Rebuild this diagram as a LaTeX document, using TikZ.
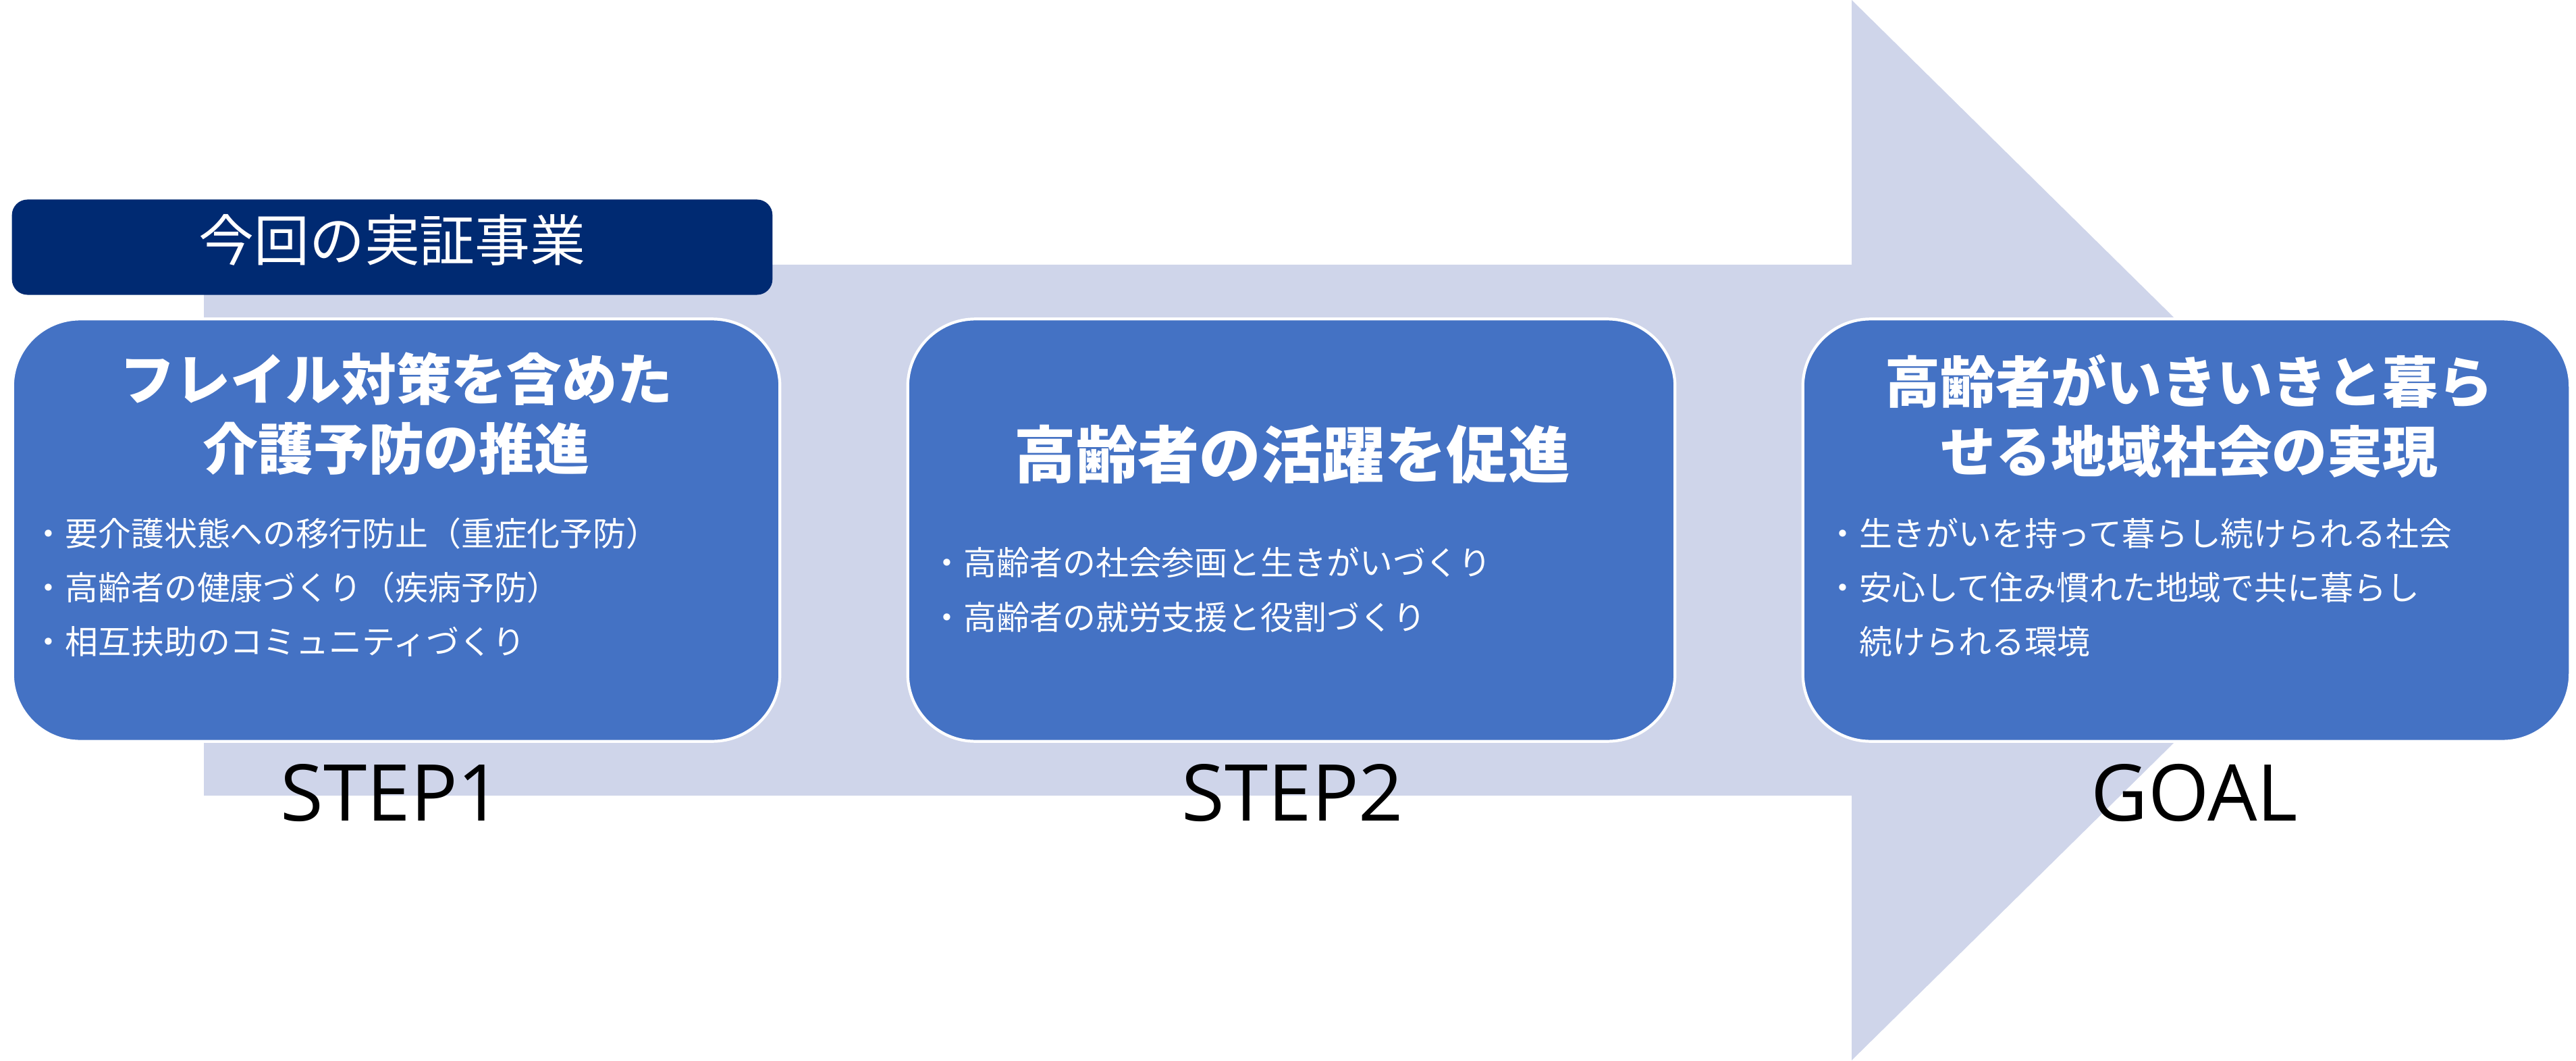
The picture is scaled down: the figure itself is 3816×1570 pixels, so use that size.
\documentclass[tikz,border=0pt]{standalone}
\usepackage{fontspec}
\setmainfont{Open Sans}
\newfontfamily\jp{Noto Sans CJK JP}
\usetikzlibrary{positioning}

\definecolor{arrowfill}{RGB}{207,213,234}
\definecolor{boxblue}{RGB}{68,114,196}
\definecolor{navy}{RGB}{0,42,114}

\tikzset{
  stage/.style={draw=white, line width=1.2pt, fill=boxblue, rounded corners=1cm,
    minimum width=11.36cm, minimum height=6.25cm},
  banner/.style={fill=navy, text=white, rounded corners=0.23cm, minimum width=11.26cm,
    minimum height=1.41cm, text height=0.72cm, text depth=0.32cm,
    font=\jp\fontsize{23.3pt}{28pt}\selectfont},
  headline/.style={text=white, align=center, inner sep=0pt,
    font=\jp\bfseries\fontsize{23.3pt}{29.3pt}\selectfont},
  item/.style={text=white, anchor=west, inner sep=0pt,
    font=\jp\fontsize{13.9pt}{16pt}\selectfont},
  steplabel/.style={anchor=base, font=\fontsize{33pt}{36pt}\selectfont},
}

\begin{document}
\begin{tikzpicture}[x=0.01cm, y=-0.01cm]
  \useasboundingbox (0,0) rectangle (3816,1570);

  % the big arrow behind everything
  \fill[arrowfill] (302,392) -- (2743,392) -- (2743,0) -- (3540,785)
    -- (2743,1570) -- (2743,1178) -- (302,1178) -- cycle;

  \node[banner] (now) at (581,366) {今回の実証事業};

  \node[stage] (box1) at (587,785) {};
  \node[stage, right=1.85cm of box1] (box2) {};
  \node[stage, right=1.85cm of box2] (box3) {};

  % titles
  \node[headline] (title1) at (587,613) {フレイル対策を含めた\\介護予防の推進};
  \node[headline, font=\jp\bfseries\fontsize{26pt}{30pt}\selectfont] (title2) at (1914,673) {高齢者の活躍を促進};
  \node[headline] (title3) at (3243,616) {高齢者がいきいきと暮ら\\せる地域社会の実現};

  % bullet points
  \foreach \txt [count=\i] in {要介護状態への移行防止（重症化予防）, 高齢者の健康づくり（疾病予防）, 相互扶助のコミュニティづくり}
    \node[item] (a\i) at (47,710+80*\i) {・\txt};
  \foreach \txt [count=\i] in {高齢者の社会参画と生きがいづくり, 高齢者の就労支援と役割づくり}
    \node[item] (b\i) at (1378,752+81*\i) {・\txt};
  \foreach \txt [count=\i] in {・生きがいを持って暮らし続けられる社会, ・安心して住み慣れた地域で共に暮らし, \hphantom{・}続けられる環境}
    \node[item] (c\i) at (2705,710+80*\i) {\txt};

  \node[steplabel] (step1) at (580,1215) {STEP1};
  \node[steplabel] (step2) at (1915,1215) {STEP2};
  \node[steplabel] (goal) at (3251,1215) {GOAL};
\end{tikzpicture}
\end{document}
